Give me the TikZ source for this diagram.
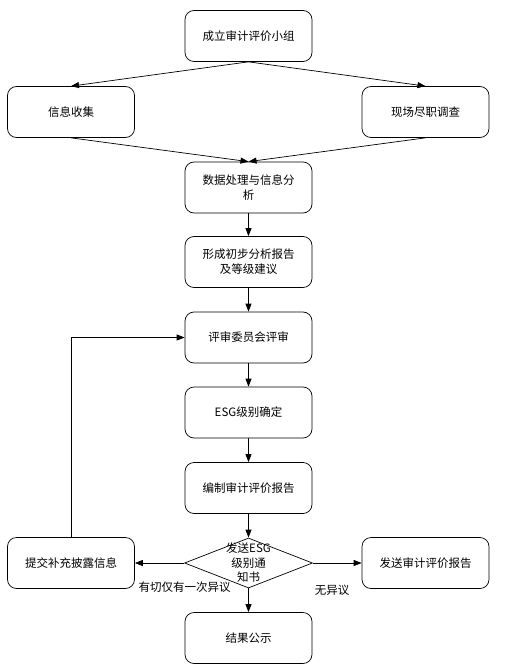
\documentclass[tikz,border=0pt]{standalone}
\usepackage{fontspec}
\setmainfont{Noto Sans CJK SC}
\usetikzlibrary{shapes.geometric,arrows.meta}

\begin{document}
\begin{tikzpicture}[x=1pt,y=-1pt,line width=0.7pt,
	box/.style={draw, rounded corners=9pt, minimum width=127pt, minimum height=51pt,
		inner sep=2pt, align=center, font=\fontsize{11.5}{15}\selectfont},
	arr/.style={-{Triangle[length=8pt,width=6pt]}},
	lbl/.style={font=\fontsize{11.5}{14}\selectfont, inner sep=0pt}]
	\useasboundingbox (0,0) rectangle (505,671);

	% main column
	\node[box] (group) at (248.5,36) {成立审计评价小组};
	\node[box] (collect) at (71,112) {信息收集};
	\node[box] (survey) at (425.5,112) {现场尽职调查};
	\node[box] (analyse) at (248.5,187.5) {数据处理与信息分\\析};
	\node[box] (draft) at (248.5,262) {形成初步分析报告\\及等级建议};
	\node[box] (review) at (248.5,337.5) {评审委员会评审};
	\node[box] (level) at (248.5,412.5) {ESG级别确定};
	\node[box] (report) at (248.5,488) {编制审计评价报告};
	\node[draw, diamond, minimum width=128pt, minimum height=50pt, inner sep=0pt,
		label={[align=center, font=\fontsize{11.5}{14.5}\selectfont]center:发送ESG\\级别通\\知书}]
		(notice) at (248.5,563) {};
	\node[box] (supply) at (71,563) {提交补充披露信息};
	\node[box] (send) at (425.5,563) {发送审计评价报告};
	\node[box] (publish) at (248.5,638) {结果公示};

	\draw[arr] (group.south) -- (collect.north);
	\draw[arr] (group.south) -- (survey.north);
	\draw[arr] (collect.south) -- (analyse.north);
	\draw[arr] (survey.south) -- (analyse.north);
	\draw[arr] (analyse) -- (draft);
	\draw[arr] (draft) -- (review);
	\draw[arr] (review) -- (level);
	\draw[arr] (level) -- (report);
	\draw[arr] (report) -- (notice);
	\draw[arr] (notice) -- (supply);
	\draw[arr] (notice) -- (send);
	\draw[arr] (notice) -- (publish);
	\draw[arr] (supply.north) |- (review.west);

	% branch labels
	\node[lbl] (once) at (184.5,587) {有切仅有一次异议};
	\node[lbl] (agree) at (332,590) {无异议};
\end{tikzpicture}
\end{document}
